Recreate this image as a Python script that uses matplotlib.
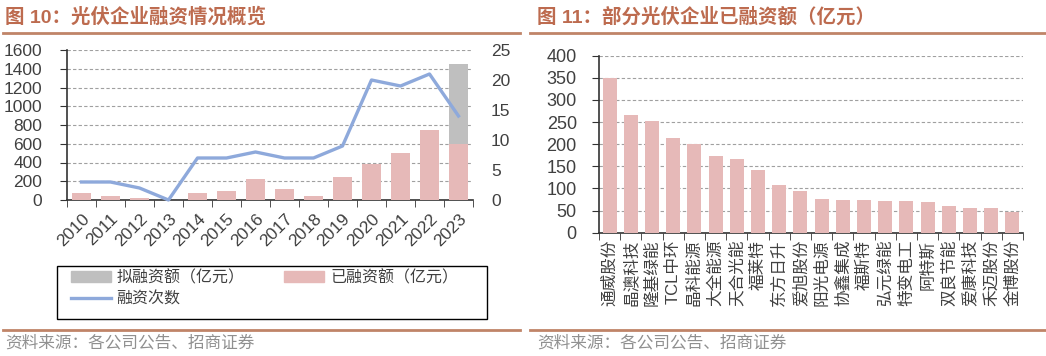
import matplotlib
matplotlib.use('Agg')
import matplotlib.pyplot as plt
from matplotlib.lines import Line2D
from matplotlib.patches import Patch, Rectangle

plt.rcParams['font.family'] = ['Liberation Sans', 'Noto Sans CJK SC', 'DejaVu Sans']

# 图10 data
years = ['2010', '2011', '2012', '2013', '2014', '2015', '2016',
         '2017', '2018', '2019', '2020', '2021', '2022', '2023']
raised = [80, 40, 25, 0, 70, 95, 225, 115, 45, 250, 385, 505, 745, 600]
planned = [0, 0, 0, 0, 0, 0, 0, 0, 0, 0, 0, 0, 0, 1455]
counts = [3, 3, 2, 0, 7, 7, 8, 7, 7, 9, 20, 19, 21, 14]

# 图11 data
companies = ['通威股份', '晶澳科技', '隆基绿能', 'TCL中环', '晶科能源', '大全能源',
             '天合光能', '福莱特', '东方日升', '爱旭股份', '阳光电源', '协鑫集成',
             '福斯特', '弘元绿能', '特变电工', '阿特斯', '双良节能', '爱康科技',
             '禾迈股份', '金博股份']
company_raised = [350, 267, 252, 215, 200, 174, 166, 142, 107, 95,
                  77, 75, 74, 72, 71, 69, 60, 56, 55, 47]

PINK = '#E6B9B8'
GREY = '#BFBFBF'
BLUE = '#8EA9DB'
TITLE_C = '#BD6B4F'
RULE_C = '#C08468'
TEXT_C = '#404040'
W, H = 1046.0, 356.0


def fx(px):
    return px / W


def fy(py):
    return 1 - py / H


fig = plt.figure(figsize=(10.46, 3.56), dpi=100)

# titles, rules, sources
fig.text(fx(5), fy(17), '图 10：光伏企业融资情况概览', color=TITLE_C, fontsize=14,
         fontweight='bold', va='center', ha='left')
fig.text(fx(537), fy(17), '图 11：部分光伏企业已融资额（亿元）', color=TITLE_C, fontsize=14,
         fontweight='bold', va='center', ha='left')
for x0, x1 in [(3, 520), (530, 1046)]:
    fig.add_artist(Line2D([fx(x0), fx(x1)], [fy(32.5), fy(32.5)], color=RULE_C, lw=2))
    fig.add_artist(Line2D([fx(x0), fx(x1)], [fy(330), fy(330)], color=RULE_C, lw=2))
fig.text(fx(5), fy(343), '资料来源：各公司公告、招商证券', color='#909090', fontsize=12,
         va='center', ha='left')
fig.text(fx(537), fy(343), '资料来源：各公司公告、招商证券', color='#909090', fontsize=12,
         va='center', ha='left')

# ---- left chart ----
ax1 = fig.add_axes([fx(67), fy(200), fx(473) - fx(67), fy(50) - fy(200)])
xs = list(range(len(years)))
ax1.bar(xs, planned, width=0.66, color=GREY, zorder=2)
ax1.bar(xs, raised, width=0.66, color=PINK, zorder=3)
ax1.set_xlim(-0.5, len(years) - 0.5)
ax1.set_ylim(0, 1600)
ax1.set_yticks(range(0, 1601, 200))
ax1.yaxis.grid(True, linestyle=(0, (3, 2)), color='#A0A0A0', linewidth=0.8)
ax1.set_axisbelow(True)
ax1.set_xticks(xs)
ax1.set_xticklabels(years, rotation=45, ha='right', rotation_mode='anchor')
ax1.set_xticks([x - 0.5 for x in range(len(years) + 1)], minor=True)
ax1.tick_params(axis='x', which='major', length=0, pad=8, labelsize=12.5, labelcolor=TEXT_C)
ax1.tick_params(axis='x', which='minor', length=5, direction='out', color='#333333')
ax1.tick_params(axis='y', length=5, direction='out', pad=13, labelsize=12.5,
                labelcolor=TEXT_C, color='#333333')
for s in ['top', 'right']:
    ax1.spines[s].set_visible(False)
for s in ['left', 'bottom']:
    ax1.spines[s].set_color('#333333')
    ax1.spines[s].set_linewidth(1.2)

ax2 = ax1.twinx()
ax2.plot(xs, counts, color=BLUE, lw=2.4, clip_on=False, zorder=5)
ax2.set_ylim(0, 25)
ax2.set_yticks(range(0, 26, 5))
ax2.tick_params(axis='y', length=0, pad=13, labelsize=12.5, labelcolor=TEXT_C)
for s in ax2.spines.values():
    s.set_visible(False)

# legend: frame drawn separately so it spans the full width
fig.add_artist(Rectangle((fx(57), fy(319)), fx(487) - fx(57), fy(266) - fy(319),
                         transform=fig.transFigure, fill=False, ec='black', lw=1.0))
handles = [Patch(color=GREY), Line2D([0], [0], color=BLUE, lw=2.4), Patch(color=PINK)]
labels = ['拟融资额（亿元）', '融资次数', '已融资额（亿元）']
leg = fig.legend(handles, labels, ncol=2, loc='upper left',
                 bbox_to_anchor=(fx(71), fy(270)),
                 fontsize=11.5, frameon=False, handlelength=2.5, handleheight=0.7,
                 handletextpad=0.35, labelspacing=0.35, borderpad=0,
                 columnspacing=2.5, borderaxespad=0)
for t in leg.get_texts():
    t.set_color(TEXT_C)

# ---- right chart ----
ax3 = fig.add_axes([fx(599), fy(232.7), fx(1023) - fx(599), fy(55.7) - fy(232.7)])
cx = list(range(len(companies)))
ax3.bar(cx, company_raised, width=0.66, color=PINK, zorder=3)
ax3.set_xlim(-0.5, len(companies) - 0.5)
ax3.set_ylim(0, 400)
ax3.set_yticks(range(0, 401, 50))
ax3.yaxis.grid(True, linestyle=(0, (3, 2)), color='#A0A0A0', linewidth=0.8)
ax3.set_axisbelow(True)
ax3.set_xticks(cx)
ax3.set_xticklabels(companies, rotation=90, ha='center', va='top')
ax3.set_xticks([x - 0.5 for x in range(len(companies) + 1)], minor=True)
ax3.tick_params(axis='x', which='major', length=0, pad=5, labelsize=12, labelcolor=TEXT_C)
ax3.tick_params(axis='x', which='minor', length=5, direction='out', color='#333333')
ax3.tick_params(axis='y', length=5, direction='out', pad=11, labelsize=13,
                labelcolor=TEXT_C, color='#333333')
for s in ['top', 'right']:
    ax3.spines[s].set_visible(False)
for s in ['left', 'bottom']:
    ax3.spines[s].set_color('#333333')
    ax3.spines[s].set_linewidth(1.2)

fig.savefig('out.png', dpi=100)
